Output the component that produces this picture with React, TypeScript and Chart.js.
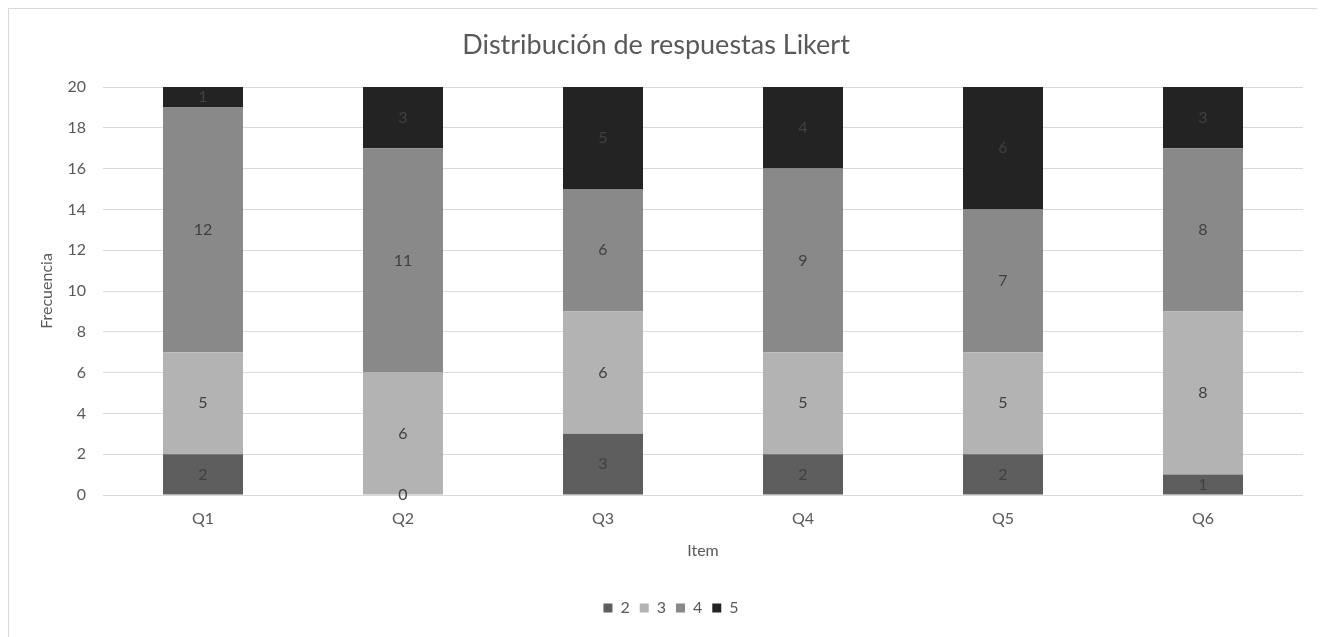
import React, { useEffect, useRef } from "react";
import { Chart, registerables } from "chart.js";

Chart.register(...registerables);

const categories = ["Q1", "Q2", "Q3", "Q4", "Q5", "Q6"];
const seriesNames = ["2", "3", "4", "5"];
const values2 = [2, 0, 3, 2, 2, 1];
const values3 = [5, 6, 6, 5, 5, 8];
const values4 = [12, 11, 6, 9, 7, 8];
const values5 = [1, 3, 5, 4, 6, 3];
const yTicks = [0, 2, 4, 6, 8, 10, 12, 14, 16, 18, 20];

const colors = ["#5e5e5e", "#b3b3b3", "#898989", "#232323"];
const FONT = "Lato, 'Noto Sans', sans-serif";
const TEXT = "#595959";

const dataLabels = {
  id: "dataLabels",
  afterDatasetsDraw(chart: any) {
    const ctx = chart.ctx;
    ctx.save();
    ctx.font = `16px ${FONT}`;
    ctx.fillStyle = "#404040";
    ctx.textAlign = "center";
    ctx.textBaseline = "middle";
    chart.data.datasets.forEach((ds: any, di: number) => {
      const meta = chart.getDatasetMeta(di);
      meta.data.forEach((el: any, i: number) => {
        const v = ds.data[i];
        const y = (el.y + el.base) / 2;
        ctx.fillText(String(v), el.x, y);
      });
    });
    ctx.restore();
  },
};

const legendShift = {
  id: "legendShift",
  afterLayout(chart: any) {
    if (chart.legend) {
      chart.legend.left += 15;
      chart.legend.right += 15;
    }
  },
};

export default function App() {
  const ref = useRef<HTMLCanvasElement>(null);
  useEffect(() => {
    const chart = new Chart(ref.current!, {
      type: "bar",
      data: {
        labels: categories,
        datasets: [values2, values3, values4, values5].map((d, i) => ({
          label: seriesNames[i],
          data: d,
          backgroundColor: colors[i],
          borderWidth: 0,
          barPercentage: 0.4,
          categoryPercentage: 1,
        })),
      },
      options: {
        animation: false,
        responsive: false,
        maintainAspectRatio: false,
        layout: { padding: { left: 0, right: 22, top: 0, bottom: 11 } },
        plugins: {
          tooltip: { enabled: false },
          title: {
            display: true,
            text: "Distribución de respuestas Likert",
            color: TEXT,
            font: { family: FONT, size: 27, weight: "normal" },
            padding: { top: 20, bottom: 25.6 },
          },
          legend: {
            position: "bottom",
            labels: {
              color: TEXT,
              font: { family: FONT, size: 16 },
              boxWidth: 9,
              boxHeight: 9,
              padding: 10,
            },
          },
        },
        scales: {
          x: {
            stacked: true,
            grid: { display: false, drawTicks: false },
            border: { display: false },
            ticks: { color: TEXT, font: { family: FONT, size: 16 }, padding: 14 },
            title: {
              display: true,
              text: "Item",
              color: TEXT,
              font: { family: FONT, size: 16 },
              padding: { top: 0, bottom: 30 },
            },
            afterFit: (s: any) => {
              s.height = 95;
            },
          },
          y: {
            stacked: true,
            min: 0,
            max: 20,
            afterBuildTicks: (s: any) => {
              s.ticks = yTicks.map((v) => ({ value: v }));
            },
            grid: { color: "#d9d9d9", drawTicks: false, lineWidth: 1 },
            border: { display: false },
            ticks: { color: TEXT, font: { family: FONT, size: 16 }, padding: 17 },
            title: {
              display: true,
              text: "Frecuencia",
              color: TEXT,
              font: { family: FONT, size: 16 },
              padding: { top: 28, bottom: 0 },
            },
            afterFit: (s: any) => {
              s.width = 94;
            },
          },
        },
      },
      plugins: [dataLabels, legendShift],
    });
    return () => chart.destroy();
  }, []);
  return (
    <div
      style={{
        width: 1317,
        height: 629,
        borderTop: "1px solid #d9d9d9",
        borderLeft: "1px solid #d9d9d9",
        boxSizing: "border-box",
        background: "#fff",
      }}
    >
      <canvas ref={ref} width={1316} height={628} style={{ display: "block" }} />
    </div>
  );
}
